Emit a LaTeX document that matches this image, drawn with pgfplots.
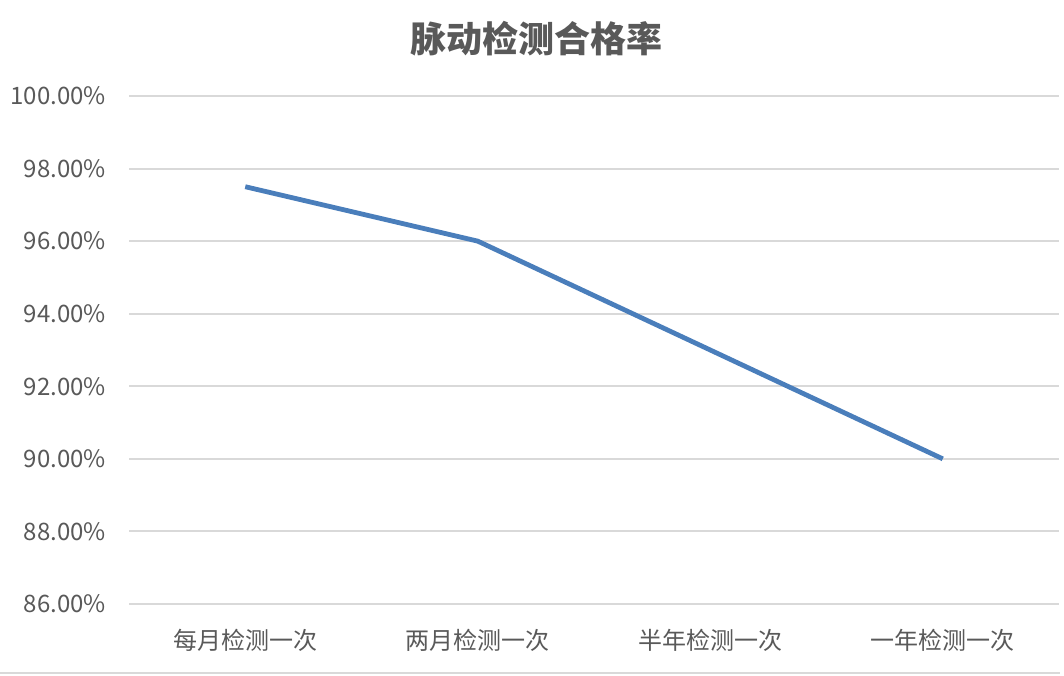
\documentclass[border=0pt]{standalone}
\usepackage{fontspec}
\setmainfont{Noto Sans CJK SC}
\usepackage{pgfplots}
\pgfplotsset{compat=1.18}

\definecolor{txtgray}{RGB}{89,89,89}
\definecolor{gridgray}{RGB}{217,217,217}
\definecolor{lineblue}{RGB}{74,126,187}

\begin{document}
\begin{tikzpicture}
\useasboundingbox (0,0) rectangle (532pt,337.5pt);
\draw[gridgray, line width=1pt] (0,1pt) -- (530pt,1pt);
\begin{axis}[
    at={(64.5pt,35.5pt)}, anchor=south west,
    scale only axis,
    width=465pt, height=254pt,
    xmin=-0.5, xmax=3.5,
    ymin=86, ymax=100,
    ytick={86,88,...,100},
    xtick=data,
    xticklabels={每月检测一次,两月检测一次,半年检测一次,一年检测一次},
    axis line style={draw=none},
    major tick length=0pt,
    ymajorgrids,
    grid style={gridgray, line width=1pt},
    /pgf/number format/assume math mode=true,
    yticklabel={\pgfmathprintnumber[fixed,fixed zerofill,precision=2]{\tick}\%},
    tick label style={font=\fontsize{12}{14}\selectfont, text=txtgray},
    yticklabel style={xshift=-8pt},
    xticklabel style={yshift=-9pt},
    title={\bfseries 脉动检测合格率},
    title style={at={(axis description cs:0.4387,1.110)}, anchor=center, yshift=-5.5pt,
                 font=\fontsize{18}{20}\selectfont, text=txtgray},
]
\addplot[lineblue, line width=2.4pt] coordinates {
    (0,97.5) (1,96) (2,93) (3,90)
};
\end{axis}
\end{tikzpicture}
\end{document}
